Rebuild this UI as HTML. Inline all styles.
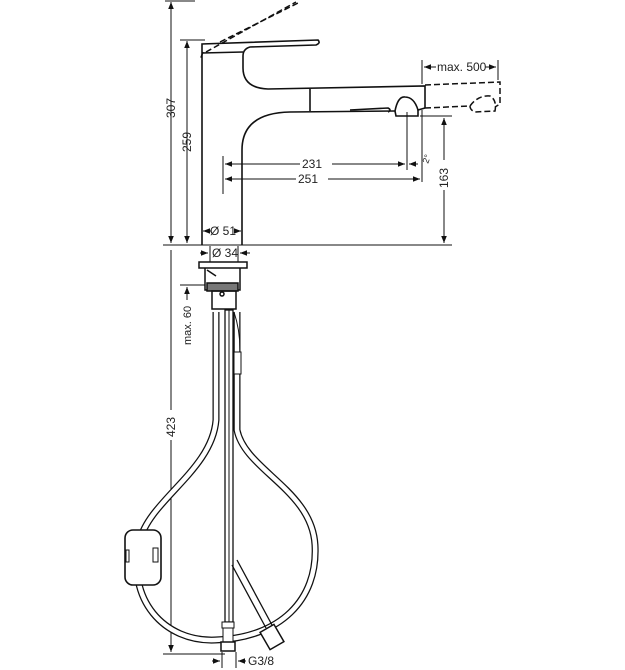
<!DOCTYPE html>
<html><head><meta charset="utf-8"><style>
html,body{margin:0;padding:0;background:#fff}
svg{display:block}
text{font-family:"Liberation Sans",sans-serif;font-size:12px;fill:#222}
</style></head><body>
<svg width="625" height="670" viewBox="0 0 625 670" xmlns="http://www.w3.org/2000/svg">
<defs>
<marker id="a" viewBox="0 0 10 10" refX="10" refY="5" markerWidth="7" markerHeight="7" orient="auto-start-reverse"><path d="M0,1 L10,5 L0,9 z" fill="#111"/></marker>
</defs>
<g stroke="#111" fill="none" stroke-width="1">
<line x1="163" y1="245" x2="452" y2="245"/>
<line x1="171" y1="2" x2="171" y2="243" marker-start="url(#a)" marker-end="url(#a)"/>
<line x1="165" y1="1" x2="195" y2="1"/>
<line x1="187" y1="41" x2="187" y2="243" marker-start="url(#a)" marker-end="url(#a)"/>
<line x1="180" y1="40" x2="205" y2="40"/>
<g stroke-width="1.6">
<path d="M202,245 L202,44 L318,40 Q321,43 316,45 L250,47 Q243,49 243,56 L243,68 Q243,88 268,89 L425,86 L425,108"/>
<line x1="202" y1="53" x2="243" y2="52"/>
<path d="M242,245 L242,150 Q242,113 290,112 L395,111"/>
<line x1="310" y1="89" x2="310" y2="111"/>
<path d="M350,110 L388,108 Q392,110 388,112"/>
<path d="M395,111 Q398,96 405,97 Q414,97 418,110 L425,108"/>
<path d="M395,111 L396,116 L418,116 L418,110"/>
</g>
<g stroke-dasharray="6,3" stroke-width="1.5">
<path d="M220,42 L300,2"/>
<path d="M203,52 L200,60 M206,52 L296,2"/>
<path d="M425,85 L500,82 L500,104 L495,107"/>
<path d="M425,108 L470,106"/>
<path d="M470,106 Q478,95 490,96 Q497,100 495,111 L475,112 Q470,110 470,106"/>
</g>
<line x1="422" y1="60" x2="422" y2="84"/>
<line x1="498" y1="60" x2="498" y2="80"/>
<line x1="424" y1="67" x2="436" y2="67" marker-start="url(#a)"/>
<line x1="485" y1="67" x2="496" y2="67" marker-end="url(#a)"/>
<line x1="223" y1="156" x2="223" y2="194"/>
<line x1="407" y1="112" x2="407" y2="170"/>
<line x1="422" y1="110" x2="422" y2="182"/>
<line x1="225" y1="164" x2="300" y2="164" marker-start="url(#a)"/>
<line x1="332" y1="164" x2="405" y2="164" marker-end="url(#a)"/>
<line x1="418" y1="164" x2="409" y2="164" marker-end="url(#a)"/>
<line x1="225" y1="179" x2="296" y2="179" marker-start="url(#a)"/>
<line x1="328" y1="179" x2="420" y2="179" marker-end="url(#a)"/>
<line x1="420" y1="116" x2="452" y2="116"/>
<line x1="444" y1="118" x2="444" y2="160" marker-start="url(#a)"/>
<line x1="444" y1="190" x2="444" y2="243" marker-end="url(#a)"/>
<line x1="203" y1="231" x2="211" y2="231" marker-start="url(#a)"/>
<line x1="234" y1="231" x2="241" y2="231" marker-end="url(#a)"/>
<line x1="210" y1="246" x2="210" y2="262"/>
<line x1="238" y1="246" x2="238" y2="262"/>
<line x1="200" y1="253" x2="208" y2="253" marker-end="url(#a)"/>
<line x1="250" y1="253" x2="240" y2="253" marker-end="url(#a)"/>
<g stroke-width="1.5">
<rect x="199" y="262" width="48" height="6"/>
<path d="M205,268 L205,290 L240,290 L240,268"/>
<path d="M207,270 L216,276"/>
<rect x="207" y="283" width="31" height="8" fill="#777"/>
<rect x="212" y="291" width="24" height="18"/>
<circle cx="222" cy="294" r="2"/>
</g>
<line x1="180" y1="285" x2="205" y2="285"/>
<line x1="187" y1="300" x2="187" y2="287" marker-end="url(#a)"/>
<line x1="171" y1="250" x2="171" y2="410"/>
<line x1="171" y1="440" x2="171" y2="652" marker-end="url(#a)"/>
<line x1="163" y1="654" x2="225" y2="654"/>
<path d="M216,312 L216,420 C212,470 150,500 140,540 C125,600 165,642 215,640 C280,638 318,600 315,545 C312,490 245,470 237,430 L237,312" stroke-width="7"/>
<path d="M216,312 L216,420 C212,470 150,500 140,540 C125,600 165,642 215,640 C280,638 318,600 315,545 C312,490 245,470 237,430 L237,312" stroke="#fff" stroke-width="4.5"/>
<rect x="225" y="310" width="8" height="312" fill="#fff" stroke-width="1.3"/>
<line x1="229" y1="310" x2="229" y2="622"/>
<rect x="222" y="622" width="12" height="6" fill="#fff"/>
<rect x="223" y="628" width="10" height="14" fill="#fff"/>
<rect x="221" y="642" width="14" height="9" fill="#fff" stroke-width="1.5"/>
<path d="M232,565 L266,628 M237,560 L272,625" stroke-width="1.3"/>
<g transform="translate(272,637) rotate(-30)"><rect x="-8" y="-10" width="16" height="20" fill="#fff" stroke-width="1.5"/></g>
<path d="M234,312 Q240,330 240,350 L240,430"/>
<rect x="234" y="352" width="7" height="22" fill="#fff"/>
<rect x="125" y="530" width="36" height="55" rx="8" fill="#fff" stroke-width="1.6"/>
<rect x="126" y="550" width="3" height="12"/>
<rect x="153" y="548" width="5" height="14"/>
<line x1="222" y1="652" x2="222" y2="668"/>
<line x1="236" y1="652" x2="236" y2="668"/>
<line x1="212" y1="661" x2="220" y2="661" marker-end="url(#a)"/>
<line x1="246" y1="661" x2="238" y2="661" marker-end="url(#a)"/>
</g>
<text x="437" y="71">max. 500</text>
<text x="302" y="168">231</text>
<text x="298" y="183">251</text>
<text x="210" y="235">Ø 51</text>
<text x="212" y="257">Ø 34</text>
<text x="248" y="665">G3/8</text>
<text transform="translate(175,118) rotate(-90)">307</text>
<text transform="translate(191,152) rotate(-90)">259</text>
<text transform="translate(448,188) rotate(-90)">163</text>
<text transform="translate(191,345) rotate(-90)" style="font-size:11px">max. 60</text>
<text transform="translate(175,437) rotate(-90)">423</text>
<text transform="translate(428,164) rotate(-70)" style="font-size:9px">2°</text>
</svg>
</body></html>
